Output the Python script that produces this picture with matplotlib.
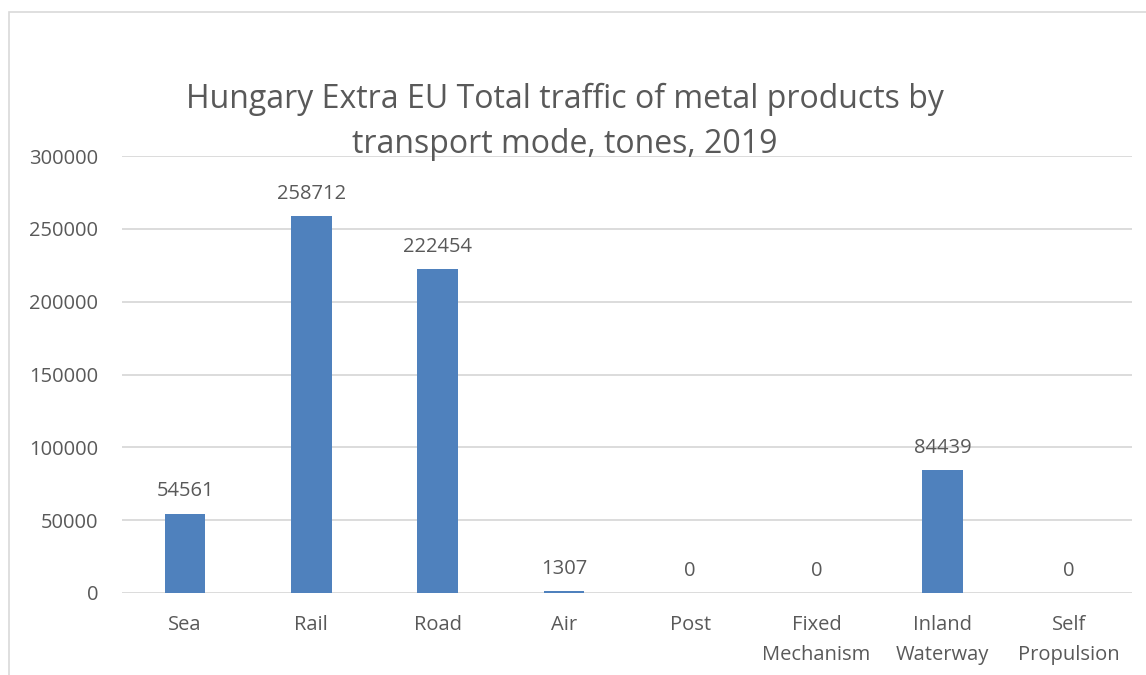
import numpy as np
import matplotlib.pyplot as plt
from matplotlib.patches import Rectangle

categories = ["Sea", "Rail", "Road", "Air", "Post", "Fixed\nMechanism",
              "Inland\nWaterway", "Self\nPropulsion"]
values = [54561, 258712, 222454, 1307, 0, 0, 84439, 0]
yticks = [0, 50000, 100000, 150000, 200000, 250000, 300000]

plt.rcParams['font.family'] = ['Open Sans', 'DejaVu Sans']
text_color = '#595959'
grid_color = '#d9d9d9'

fig = plt.figure(figsize=(11.46, 6.75), dpi=100)
ax = fig.add_axes([122 / 1146, 1 - 593 / 675, 1010 / 1146, 437 / 675])

x = np.arange(len(categories))
ax.bar(x, values, width=0.32, color='#4f81bd', zorder=3)

for xi, v in zip(x, values):
    ax.text(xi, v + 8500, str(v), ha='center', va='bottom',
            fontsize=14.5, color=text_color)

ax.set_xlim(-0.5, len(categories) - 0.5)
ax.set_ylim(0, 300000)
ax.set_yticks(yticks)
ax.set_yticklabels([str(t) for t in yticks])
ax.set_xticks(x)
ax.set_xticklabels(categories, linespacing=1.65)
ax.tick_params(axis='both', length=0, labelsize=14.5, labelcolor=text_color)
ax.tick_params(axis='y', pad=17)
ax.tick_params(axis='x', pad=16)
ax.yaxis.grid(True, color=grid_color, linewidth=1.3, zorder=0)
for s in ax.spines.values():
    s.set_visible(False)

fig.text(565 / 1146, 1 - 122 / 675,
         "Hungary Extra EU Total traffic of metal products by\ntransport mode, tones, 2019",
         ha='center', va='center', fontsize=23, color=text_color, linespacing=1.5)

fig.patches.append(Rectangle((9 / 1146, -0.01), 1.01, 1 - 12 / 675 + 0.01,
                             transform=fig.transFigure, fill=False,
                             edgecolor=grid_color, linewidth=1.2))

fig.savefig('out.png', dpi=100)
